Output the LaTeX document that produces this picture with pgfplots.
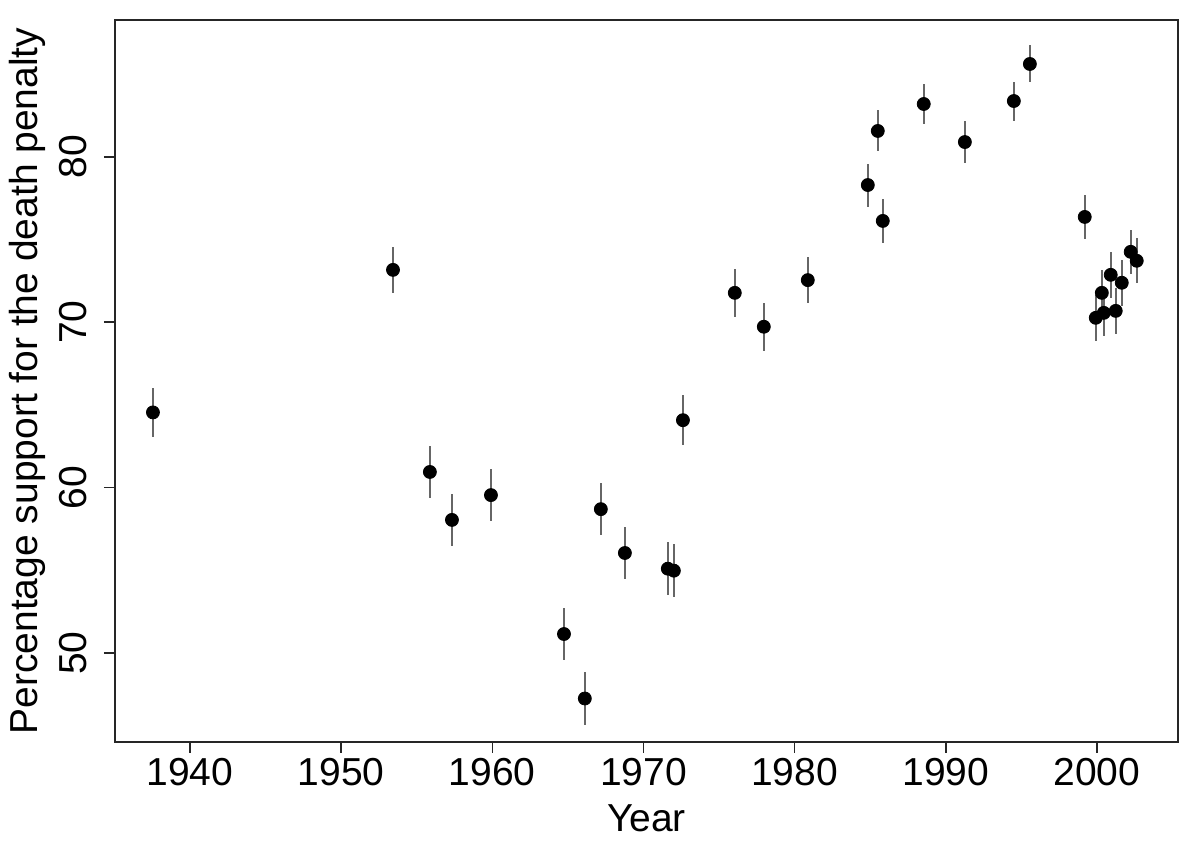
\documentclass[border=0pt]{standalone}
\usepackage{fontspec}
\setmainfont{Liberation Sans}
\usepackage{pgfplots}
\pgfplotsset{compat=1.18}
\usepackage{pgfplotstable}

\pgfplotstableread{
year    pct    err
1937.55 64.55 1.5
1953.43 73.17 1.4
1955.87 60.95 1.55
1957.33 58.05 1.55
1959.91 59.55 1.55
1964.74 51.15 1.6
1966.12 47.25 1.6
1967.18 58.70 1.57
1968.77 56.05 1.57
1971.61 55.10 1.6
1972.01 54.98 1.6
1972.61 64.08 1.5
1976.04 71.78 1.45
1977.96 69.73 1.45
1980.87 72.55 1.4
1984.84 78.30 1.3
1985.50 81.57 1.24
1985.83 76.13 1.33
1988.54 83.20 1.18
1991.26 80.90 1.25
1994.50 83.38 1.18
1995.56 85.62 1.12
1999.19 76.37 1.33
1999.92 70.27 1.4
2000.32 71.78 1.4
2000.45 70.57 1.4
2000.91 72.87 1.4
2001.24 70.69 1.4
2001.64 72.39 1.4
2002.23 74.26 1.35
2002.63 73.72 1.35
}\support

\begin{document}
\begin{tikzpicture}
\begin{axis}[
  scale only axis,
  width=531.5pt, height=361pt,
  xmin=1935.04, xmax=2005.36,
  ymin=44.62, ymax=88.28,
  xtick={1940,1950,...,2000},
  ytick={50,60,70,80},
  axis line style={black!85, line width=0.8pt},
  tick style={black!85, line width=0.8pt},
  tick align=outside,
  major tick length=5.5pt,
  xtick pos=bottom, ytick pos=left,
  font=\fontsize{19.5}{23}\selectfont,
  /pgf/number format/assume math mode=true,
  xticklabel style={/pgf/number format/1000 sep={}, anchor=north, inner sep=0pt},
  xticklabel shift=2.5pt,
  yticklabel style={rotate=90, anchor=base, inner sep=0pt},
  yticklabel shift=8.5pt,
  xlabel={Year},
  ylabel={Percentage support for the death penalty},
  xlabel style={at={([yshift=-45pt]axis description cs:0.5,0)}, anchor=base, inner sep=0pt},
  ylabel style={at={([xshift=-38.5pt]axis description cs:0,0.5)}, anchor=base, inner sep=0pt},
]
\addplot[only marks, mark=*, mark size=3.25pt, black,
  error bars/.cd, y dir=both, y explicit, error mark=none,
  error bar style={black!60, line width=1pt}]
  table[x=year, y=pct, y error=err] {\support};
\end{axis}
\pgfresetboundingbox
\path ([shift={(-57.5pt,-59pt)}]current axis.south west) rectangle ([shift={(7pt,10pt)}]current axis.north east);
\end{tikzpicture}
\end{document}
